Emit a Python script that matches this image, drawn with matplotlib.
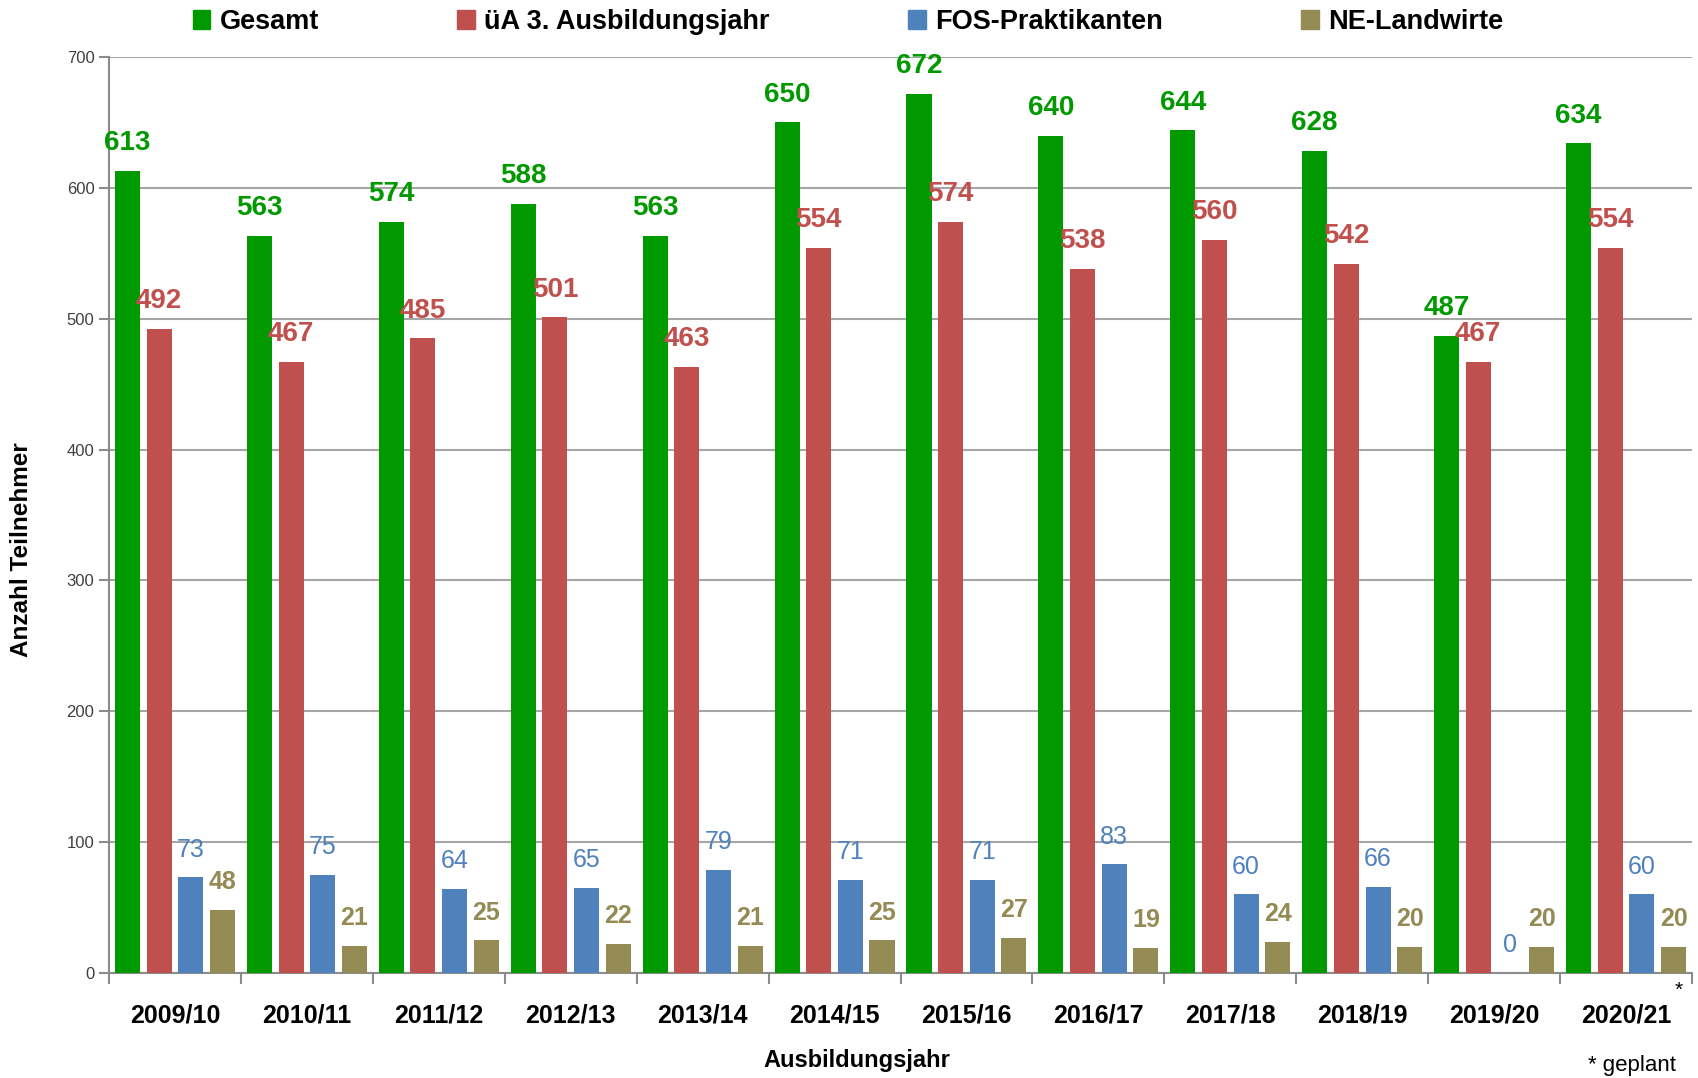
import matplotlib
matplotlib.use("Agg")
import matplotlib.pyplot as plt
import numpy as np
from matplotlib.patches import Patch

plt.rcParams['font.family'] = ['Liberation Sans Narrow', 'Liberation Sans', 'DejaVu Sans']

years = ["2009/10", "2010/11", "2011/12", "2012/13", "2013/14", "2014/15",
         "2015/16", "2016/17", "2017/18", "2018/19", "2019/20", "2020/21"]
gesamt = [613, 563, 574, 588, 563, 650, 672, 640, 644, 628, 487, 634]
uea3 = [492, 467, 485, 501, 463, 554, 574, 538, 560, 542, 467, 554]
fos = [73, 75, 64, 65, 79, 71, 71, 83, 60, 66, 0, 60]
ne = [48, 21, 25, 22, 21, 25, 27, 19, 24, 20, 20, 20]

series_names = ["Gesamt", "üA 3. Ausbildungsjahr", "FOS-Praktikanten", "NE-Landwirte"]
series_vals = [gesamt, uea3, fos, ne]
colors = ["#009900", "#C0504D", "#4F81BD", "#948A54"]
label_weights = ["bold", "bold", "normal", "bold"]

W, H = 1698, 1078
fig = plt.figure(figsize=(W / 100, H / 100), dpi=100)
ax = fig.add_axes([109 / W, 1 - 973 / H, (1692 - 109) / W, (973 - 57) / H])

x = np.arange(len(years))
spacing = 0.24
width = 0.19
for i, (name, vals, c, wgt) in enumerate(zip(series_names, series_vals, colors, label_weights)):
    off = (i - 1.5) * spacing
    ax.bar(x + off, vals, width=width, color=c, zorder=3)
    for xi, v in zip(x + off, vals):
        ax.annotate(str(v), (xi, v), xytext=(0, 20), textcoords="offset points",
                    ha="center", va="center", color=c, fontsize=20 if i < 2 else 18,
                    fontweight=wgt, zorder=4)

ax.set_xlim(-0.5, len(years) - 0.5)
ax.set_ylim(0, 700)
ax.set_yticks(range(0, 701, 100))
ax.yaxis.grid(True, color="#a6a6a6", linewidth=1.5, zorder=0)
ax.set_axisbelow(True)
for s in ["top", "right"]:
    ax.spines[s].set_visible(False)
for s in ["left", "bottom"]:
    ax.spines[s].set_color("#8c8c8c")
    ax.spines[s].set_linewidth(1.5)

ax.tick_params(axis="y", colors="#8c8c8c", length=7, width=1.5, labelcolor="#404040", labelsize=12)
ax.set_xticks(x)
ax.set_xticklabels(years, fontsize=18, fontweight="bold")
ax.tick_params(axis="x", which="major", length=0, pad=22)
ax.set_xticks(np.arange(-0.5, len(years)), minor=True)
ax.tick_params(axis="x", which="minor", length=8, width=1.5, color="#8c8c8c")

fig.text(22 / W, 1 - 550 / H, "Anzahl Teilnehmer", rotation=90, ha="center", va="center",
         fontsize=17.5, fontweight="bold")
fig.text(857 / W, 1 - 1060 / H, "Ausbildungsjahr", ha="center", va="center",
         fontsize=17, fontweight="bold")
fig.text(1676 / W, 1 - 1065 / H, "* geplant", ha="right", va="center", fontsize=16)
fig.text(1679 / W, 1 - 990 / H, "*", ha="center", va="center", fontsize=15)

handles = [Patch(color=c) for c in colors]
fig.legend(handles, series_names, loc="center", bbox_to_anchor=(848 / W, 1 - 22 / H),
           ncol=4, frameon=False, prop={"weight": "bold", "size": 19.5},
           handlelength=0.65, handleheight=0.65, handletextpad=0.35, columnspacing=5.1)

fig.savefig("out.png", dpi=100, facecolor="white")
